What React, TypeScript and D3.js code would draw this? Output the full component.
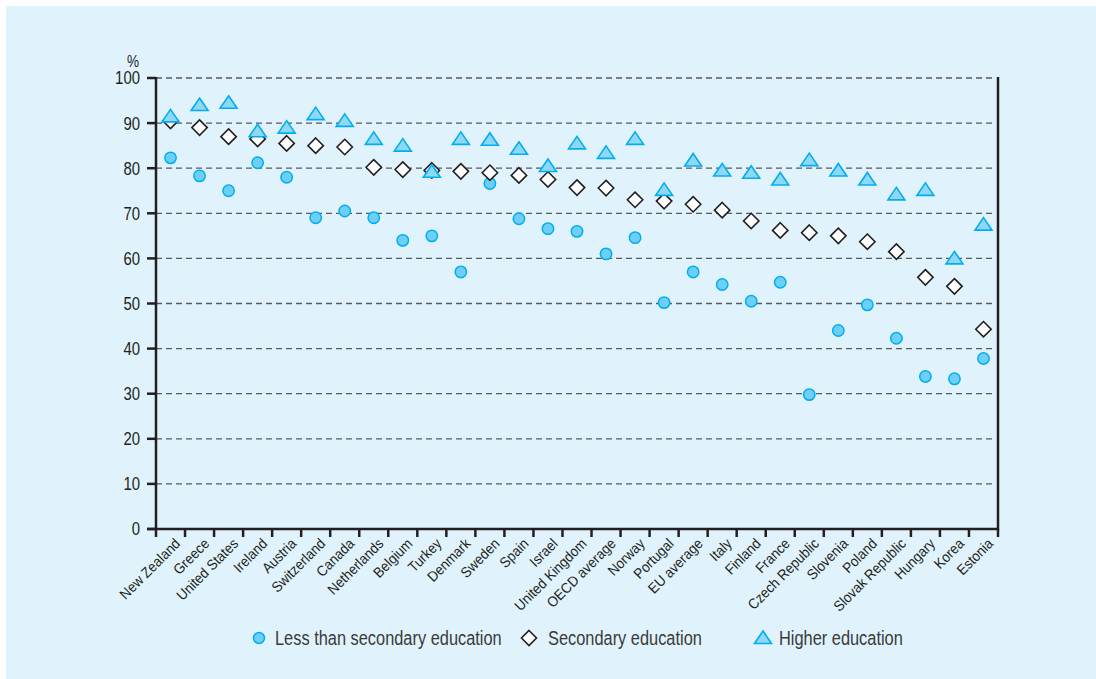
import React, { useEffect, useRef } from 'react'
import * as d3 from 'd3'

const countries = [
  'New Zealand', 'Greece', 'United States', 'Ireland', 'Austria', 'Switzerland', 'Canada',
  'Netherlands', 'Belgium', 'Turkey', 'Denmark', 'Sweden', 'Spain', 'Israel', 'United Kingdom',
  'OECD average', 'Norway', 'Portugal', 'EU average', 'Italy', 'Finland', 'France',
  'Czech Republic', 'Slovenia', 'Poland', 'Slovak Republic', 'Hungary', 'Korea', 'Estonia',
]
const lessThanSecondary = [
  82.3, 78.3, 75, 81.2, 78, 69, 70.5, 69, 64, 65, 57, 76.6, 68.8, 66.6, 66,
  61, 64.6, 50.2, 57, 54.2, 50.5, 54.7, 29.8, 44, 49.7, 42.3, 33.8, 33.3, 37.8,
]
const secondary = [
  90.5, 89, 87, 86.5, 85.5, 85, 84.7, 80.2, 79.7, 79.5, 79.3, 79, 78.4, 77.5, 75.7,
  75.6, 73, 72.7, 72, 70.7, 68.3, 66.2, 65.7, 65, 63.7, 61.5, 55.8, 53.8, 44.3,
]
const higher = [
  91.5, 94, 94.5, 88.2, 89, 92, 90.5, 86.5, 85, 79.2, 86.5, 86.3, 84.3, 80.5, 85.5,
  83.4, 86.5, 75.2, 81.7, 79.5, 79, 77.5, 81.8, 79.5, 77.5, 74.2, 75.2, 60, 67.5,
]
const yTicks = [0, 10, 20, 30, 40, 50, 60, 70, 80, 90, 100]
const legendItems = ['Less than secondary education', 'Secondary education', 'Higher education']

const W = 1096
const H = 679
const FONT = '"Liberation Sans", Arial, sans-serif'
const INK = '#231f20'
const BLUE = '#00aeef'

export default function App() {
  const ref = useRef<SVGSVGElement>(null)

  useEffect(() => {
    const svg = d3.select(ref.current)
    svg.selectAll('*').remove()

    svg.append('rect').attr('x', 6).attr('y', 6).attr('width', W - 6).attr('height', H - 6).attr('fill', '#e0f3fc')

    const left = 156
    const right = 998
    const top = 78
    const bottom = 529

    const x = d3.scaleBand().domain(countries).range([left, right])
    const y = d3.scaleLinear().domain([0, 100]).range([bottom, top])
    const cx = (c: string) => (x(c) as number) + x.bandwidth() / 2

    // grid
    svg.append('g')
      .selectAll('line')
      .data(yTicks.filter(t => t > 0))
      .join('line')
      .attr('x1', left)
      .attr('x2', right - 4)
      .attr('y1', d => y(d))
      .attr('y2', d => y(d))
      .attr('stroke', '#5a5a5a')
      .attr('stroke-width', 1.3)
      .attr('stroke-dasharray', '6,4')

    // y ticks and condensed labels
    const yt = svg.append('g').selectAll('g').data(yTicks).join('g')
      .attr('transform', d => `translate(${left},${y(d)})`)
    yt.append('line').attr('x1', -9).attr('x2', 0).attr('stroke', INK).attr('stroke-width', 2.5)
    yt.append('text')
      .attr('transform', 'translate(-16,0) scale(0.83,1)')
      .attr('text-anchor', 'end')
      .attr('dy', '0.36em')
      .attr('font-family', FONT)
      .attr('font-size', 18)
      .attr('fill', INK)
      .text(d => d)

    svg.append('text').attr('transform', 'translate(133,67) scale(0.85,1)').attr('font-family', FONT).attr('font-size', 16)
      .attr('fill', INK).attr('text-anchor', 'middle').text('%')

    // frame lines
    svg.append('line').attr('x1', left).attr('x2', left).attr('y1', top - 1).attr('y2', bottom + 1)
      .attr('stroke', INK).attr('stroke-width', 2.5)
    svg.append('line').attr('x1', right).attr('x2', right).attr('y1', top - 1).attr('y2', bottom + 1)
      .attr('stroke', INK).attr('stroke-width', 2.5)
    svg.append('line').attr('x1', left - 9).attr('x2', right + 1).attr('y1', bottom).attr('y2', bottom)
      .attr('stroke', INK).attr('stroke-width', 2.5)

    // x ticks at band boundaries
    const bounds = countries.map(c => x(c) as number).concat([right])
    svg.append('g').selectAll('line').data(bounds).join('line')
      .attr('x1', d => d).attr('x2', d => d)
      .attr('y1', bottom).attr('y2', bottom + 8)
      .attr('stroke', INK).attr('stroke-width', 2.5)

    // x labels
    svg.append('g').selectAll('text').data(countries).join('text')
      .attr('transform', d => `translate(${cx(d) + 7},${bottom + 12}) rotate(-45) scale(0.92,1)`)
      .attr('text-anchor', 'end')
      .attr('dy', '0.35em')
      .attr('font-family', FONT)
      .attr('font-size', 14.5)
      .attr('fill', INK)
      .text(d => d)

    // markers
    svg.append('g').selectAll('circle').data(countries).join('circle')
      .attr('cx', d => cx(d))
      .attr('cy', (d, i) => y(lessThanSecondary[i]))
      .attr('r', 5.7)
      .attr('fill', '#6dcff6')
      .attr('stroke', BLUE)
      .attr('stroke-width', 1.5)

    const diamond = (px: number, py: number, r: number) =>
      `M${px},${py - r}L${px + r},${py}L${px},${py + r}L${px - r},${py}Z`
    svg.append('g').selectAll('path').data(countries).join('path')
      .attr('d', (d, i) => diamond(cx(d), y(secondary[i]), 7.7))
      .attr('fill', '#fff')
      .attr('stroke', INK)
      .attr('stroke-width', 1.6)

    const triangle = (px: number, py: number) =>
      `M${px},${py - 7}L${px + 8.5},${py + 5.5}L${px - 8.5},${py + 5.5}Z`
    svg.append('g').selectAll('path').data(countries).join('path')
      .attr('d', (d, i) => triangle(cx(d), y(higher[i])))
      .attr('fill', '#8fd8f5')
      .attr('stroke', BLUE)
      .attr('stroke-width', 1.6)

    // legend
    const ly = 638
    const lg = svg.append('g')
    lg.append('circle').attr('cx', 259).attr('cy', ly).attr('r', 5.5).attr('fill', '#6dcff6')
      .attr('stroke', BLUE).attr('stroke-width', 1.5)
    lg.append('path').attr('d', diamond(529, ly, 7.5)).attr('fill', '#fff').attr('stroke', INK).attr('stroke-width', 1.6)
    lg.append('path').attr('d', triangle(763, ly)).attr('fill', '#8fd8f5').attr('stroke', BLUE).attr('stroke-width', 1.6)
    const lx = [275, 548, 779]
    lg.selectAll('text').data(legendItems).join('text')
      .attr('transform', (d, i) => `translate(${lx[i]},${ly}) scale(0.78,1)`)
      .attr('dy', '0.35em')
      .attr('font-family', FONT)
      .attr('font-size', 21)
      .attr('fill', '#3a3a3a')
      .text(d => d)
  }, [])

  return (
    <svg ref={ref} width={W} height={H} style={{ position: 'absolute', left: 0, top: 0, background: '#fff' }} />
  )
}
